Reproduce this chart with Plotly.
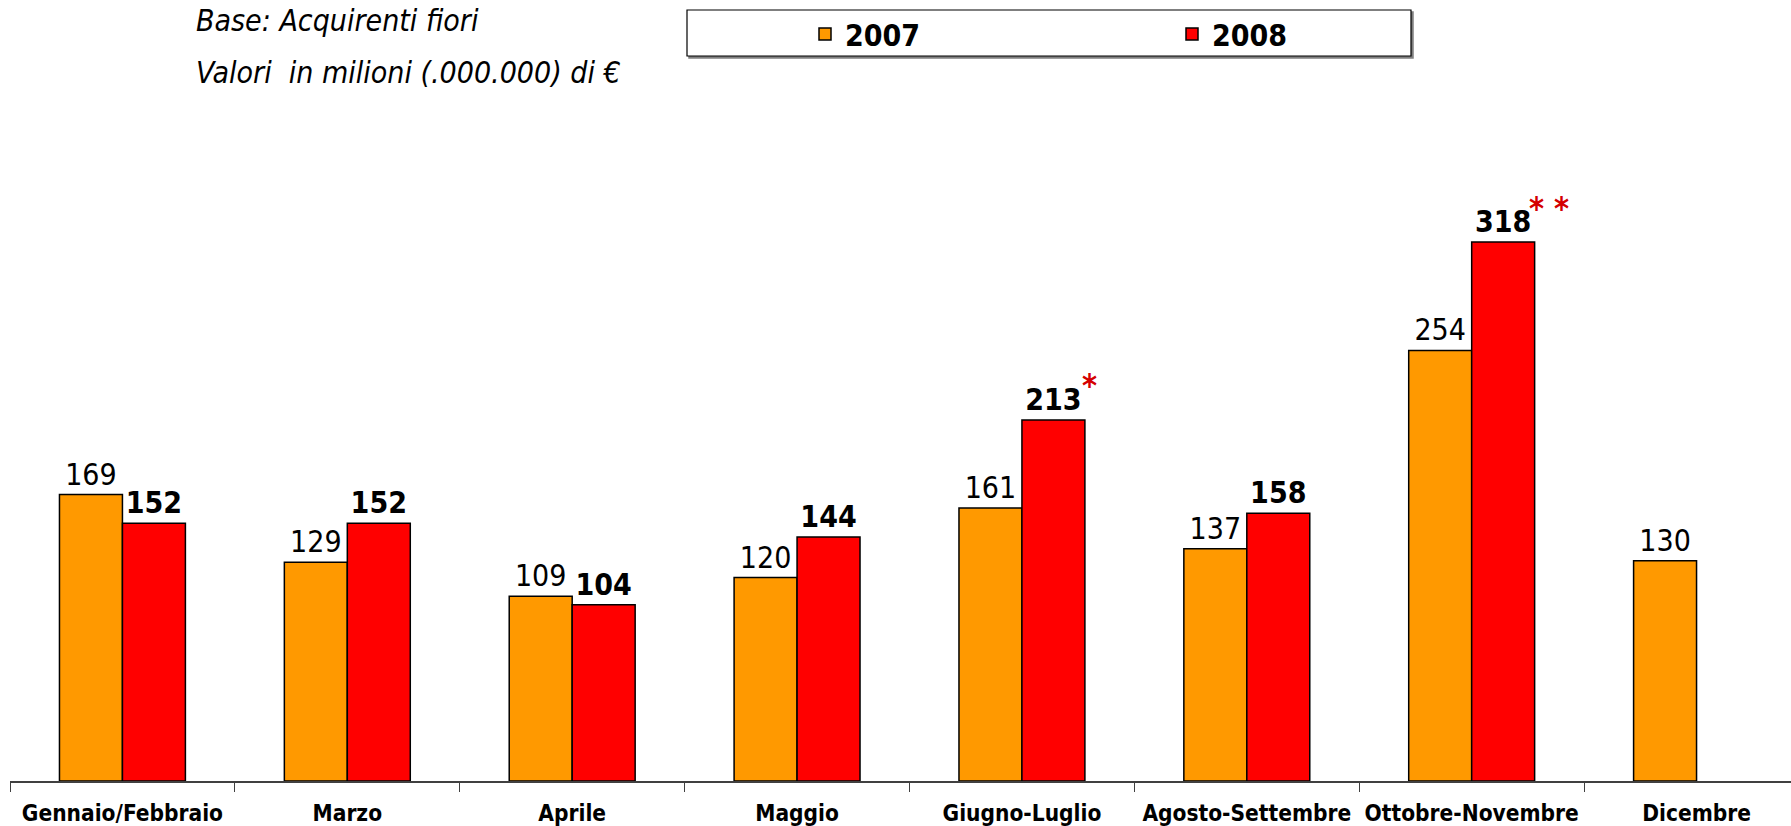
import plotly.graph_objects as go

categories = ["Gennaio/Febbraio", "Marzo", "Aprile", "Maggio", "Giugno-Luglio",
              "Agosto-Settembre", "Ottobre-Novembre", "Dicembre"]
values_2007 = [169, 129, 109, 120, 161, 137, 254, 130]
values_2008 = [152, 152, 104, 144, 213, 158, 318, None]
series_names = ["2007", "2008"]
asterisk_notes = [("Giugno-Luglio", 213, "*"), ("Ottobre-Novembre", 318, "* *")]
subtitle_lines = ["Base: Acquirenti fiori", "Valori  in milioni (.000.000) di €"]

FONT = "DejaVu Sans Condensed, DejaVu Sans, Verdana, sans-serif"
W, H = 1791, 826
ML, MR, MT, MB = 10, 0, 120, 45
PW, PH = W - ML - MR, H - MT - MB

def px_x(x):
    return (x - ML) / PW

def px_y(y):
    return (H - MB - y) / PH

fig = go.Figure()
fig.add_trace(go.Bar(
    name="<b>%s</b>" % series_names[0], x=categories, y=values_2007,
    marker=dict(color="#FF9900", line=dict(color="#000000", width=1.5)),
    text=[str(v) for v in values_2007], textposition="outside",
    textfont=dict(family=FONT, size=30, color="#000000"),
    constraintext="none", cliponaxis=False,
))
fig.add_trace(go.Bar(
    name="<b>%s</b>" % series_names[1], x=categories, y=values_2008,
    marker=dict(color="#FF0000", line=dict(color="#000000", width=1.5)),
    text=["" if v is None else "<b>%d</b>" % v for v in values_2008], textposition="outside",
    textfont=dict(family=FONT, size=30, color="#000000"),
    constraintext="none", cliponaxis=False,
))

annotations = []
for (cat, val, txt), xs, ys in zip(asterisk_notes, [68, 77], [35, 34]):
    annotations.append(dict(
        x=cat, y=val, xref="x", yref="y", text="<b>%s</b>" % txt, showarrow=False,
        xshift=xs, yshift=ys, yanchor="middle", xanchor="center",
        font=dict(family=FONT, size=32, color="#D40000"),
    ))
for line, yc in zip(subtitle_lines, [20, 73]):
    annotations.append(dict(
        x=px_x(194), y=px_y(yc), xref="paper", yref="paper", text="<i>%s</i>" % line,
        showarrow=False, xanchor="left", yanchor="middle",
        font=dict(family=FONT, size=30, color="#000000"),
    ))

shapes = [
    dict(type="rect", xref="paper", yref="paper",
         x0=px_x(689), x1=px_x(1413), y0=px_y(12), y1=px_y(58),
         line=dict(color="#808080", width=1.5), fillcolor="#808080", layer="below"),
    dict(type="rect", xref="paper", yref="paper",
         x0=px_x(687), x1=px_x(1411), y0=px_y(10), y1=px_y(56),
         line=dict(color="#000000", width=1.2), fillcolor="#FFFFFF", layer="below"),
]

fig.update_layout(
    width=W, height=H,
    margin=dict(l=ML, r=MR, t=MT, b=MB, pad=0, autoexpand=False),
    paper_bgcolor="#FFFFFF", plot_bgcolor="#FFFFFF",
    barmode="group", bargap=0.44, bargroupgap=0,
    font=dict(family=FONT, color="#000000"),
    showlegend=True,
    legend=dict(orientation="h", x=px_x(805), y=px_y(34), xanchor="left", yanchor="middle",
                entrywidth=322, entrywidthmode="pixels", bgcolor="rgba(0,0,0,0)",
                font=dict(family=FONT, size=30, color="#000000"), itemclick=False,
                traceorder="normal"),
    annotations=annotations, shapes=shapes,
    xaxis=dict(type="category", range=[-0.5, 7.42], tickson="boundaries",
               ticks="outside", ticklen=9, tickwidth=1.2, tickcolor="#404040",
               showline=True, linecolor="#404040", linewidth=1.5, automargin=False,
               showgrid=False, zeroline=False, ticklabelstandoff=11, tickangle=0,
               tickfont=dict(family=FONT, size=22.5, color="#000000"),
               tickvals=categories, ticktext=["<b>%s</b>" % c for c in categories]),
    yaxis=dict(range=[0, PH / 1.695], visible=False, showgrid=False, zeroline=False,
               automargin=False),
)

fig.write_html("out.html", config={"displayModeBar": False},
               post_script="document.body.style.margin='0';document.body.style.overflow='hidden';")
